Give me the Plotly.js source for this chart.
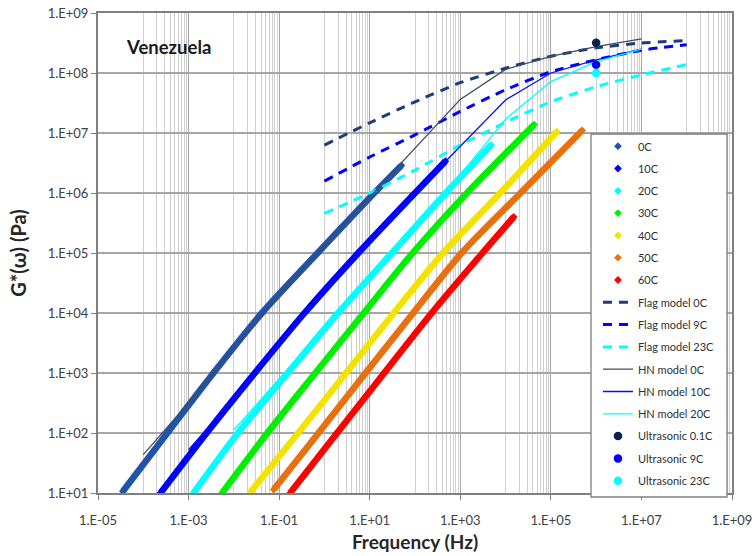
<!DOCTYPE html>
<html>
<head>
<meta charset="utf-8">
<script src="https://cdn.plot.ly/plotly-3.0.1.min.js"></script>
<style>
  html, body { margin: 0; padding: 0; background: #ffffff; }
  #chart { width: 754px; height: 556px; }
</style>
</head>
<body>
<div id="chart"></div>
<script>
// Measured complex modulus G*(ω) versus frequency, per test temperature
const f0C  = [3.55e-5, 3.4e-4, 3.55e-3, 4.17e-2, 0.708, 12.6, 50.1];
const g0C  = [1.07e1, 1e2, 1e3, 1e4, 1e5, 1e6, 2.88e6];
const f10C = [2.4e-4, 2.5e-3, 2.9e-2, 0.363, 5.6, 100, 468];
const g10C = [1e1, 1e2, 1e3, 1e4, 1e5, 1e6, 3.39e6];
const f20C = [1.29e-3, 1.23e-2, 0.155, 2.0, 30.9, 479, 4790];
const g20C = [1e1, 1e2, 1e3, 1e4, 1e5, 1e6, 6.3e6];
const f30C = [5.5e-3, 5.5e-2, 0.63, 7.4, 89, 1410, 2.8e4, 4.27e4];
const g30C = [1e1, 1e2, 1e3, 1e4, 1e5, 1e6, 1e7, 1.38e7];
const f40C = [2.4e-2, 0.263, 3.0, 33.9, 417, 7590, 1.35e5];
const g40C = [1.07e1, 1e2, 1e3, 1e4, 1e5, 1e6, 1.05e7];
const f50C = [7.6e-2, 0.74, 8.1, 91, 1070, 2.14e4, 4.9e5];
const g50C = [1.14e1, 1e2, 1e3, 1e4, 1e5, 1e6, 1.1e7];
const f60C = [0.178, 1.9, 20.9, 234, 3090, 1.51e4];
const g60C = [1.02e1, 1e2, 1e3, 1e4, 1e5, 3.98e5];

// Flag model curves
const fFlag     = [1, 1e1, 1e2, 1e3, 1e4, 1e5, 1e6, 1e7, 1e8];
const gFlag0C   = [6.3e6, 1.48e7, 3.3e7, 6.9e7, 1.2e8, 1.9e8, 2.63e8, 3.16e8, 3.47e8];
const gFlag9C   = [1.58e6, 3.98e6, 9.3e6, 2.29e7, 5.25e7, 1.05e8, 1.66e8, 2.4e8, 2.95e8];
const gFlag23C  = [4.57e5, 1.0e6, 2.4e6, 6.3e6, 1.51e7, 3.3e7, 5.9e7, 9.3e7, 1.38e8];

// Havriliak-Negami model curves
const fHN0C  = [1e-4, 1e-3, 1e-2, 1e-1, 1, 1e1, 1e2, 1e3, 1e4, 1e5, 1e6, 1e7];
const gHN0C  = [43.6, 316, 2630, 2.0e4, 1.32e5, 8.5e5, 5.5e6, 3.63e7, 1.15e8, 1.9e8, 2.75e8, 3.7e8];
const fHN10C = [1e-3, 1e-2, 1e-1, 1, 1e1, 1e2, 1e3, 1e4, 1e5, 1e6, 1e7];
const gHN10C = [52.5, 372, 3090, 2.34e4, 1.58e5, 1.0e6, 6.0e6, 3.55e7, 1.0e8, 1.66e8, 2.5e8];
const fHN20C = [1e-2, 1e-1, 1, 1e1, 1e2, 1e3, 1e4, 1e5, 1e6, 1e7];
const gHN20C = [112, 794, 5890, 4.17e4, 2.82e5, 2.0e6, 1.7e7, 7.2e7, 1.55e8, 2.5e8];

// Ultrasonic measurements
const fUltra    = [1e6];
const gUltra01C = [3.2e8];
const gUltra9C  = [1.37e8];
const gUltra23C = [1.0e8];

const FONT = 'Lato, "Open Sans", Arial, sans-serif';
const traces = [];

function dataSeries(name, xs, ys, color) {
  // thick band along the measured points plus the diamond markers
  traces.push({x: xs, y: ys, mode: 'lines', type: 'scatter', legendgroup: name,
    showlegend: false, hoverinfo: 'skip',
    line: {color: color, width: 6.5, shape: 'spline', smoothing: 0.8}});
  traces.push({x: xs, y: ys, mode: 'markers', type: 'scatter', name: name, legendgroup: name,
    marker: {symbol: 'diamond', size: 6, color: color}});
}
function dashSeries(name, xs, ys, color) {
  traces.push({x: xs, y: ys, mode: 'lines', type: 'scatter', name: name, legendgroup: name,
    line: {color: color, width: 3, dash: '9px,7px', shape: 'spline', smoothing: 0.6}});
}
function solidSeries(name, xs, ys, color) {
  traces.push({x: xs, y: ys, mode: 'lines', type: 'scatter', name: name, legendgroup: name,
    line: {color: color, width: 1.3}});
}
function pointSeries(name, xs, ys, color) {
  traces.push({x: xs, y: ys, mode: 'markers', type: 'scatter', name: name, legendgroup: name,
    marker: {symbol: 'circle', size: 8.5, color: color}});
}

dataSeries('0C',  f0C,  g0C,  '#2053ab');
dataSeries('10C', f10C, g10C, '#0000ff');
dataSeries('20C', f20C, g20C, '#00ffff');
dataSeries('30C', f30C, g30C, '#00f000');
dataSeries('40C', f40C, g40C, '#f2e400');
dataSeries('50C', f50C, g50C, '#e8700f');
dataSeries('60C', f60C, g60C, '#ff0000');
dashSeries('Flag model 0C',  fFlag, gFlag0C,  '#1c3c7c');
dashSeries('Flag model 9C',  fFlag, gFlag9C,  '#0000ff');
dashSeries('Flag model 23C', fFlag, gFlag23C, '#00ffff');
solidSeries('HN model 0C',  fHN0C,  gHN0C,  '#3e4c68');
solidSeries('HN model 10C', fHN10C, gHN10C, '#0a0aff');
solidSeries('HN model 20C', fHN20C, gHN20C, '#00ffff');
pointSeries('Ultrasonic 0.1C', fUltra, gUltra01C, '#0d214d');
pointSeries('Ultrasonic 9C',   fUltra, gUltra9C,  '#0000ff');
pointSeries('Ultrasonic 23C',  fUltra, gUltra23C, '#00ffff');

const xTickVals = [1e-5, 1e-3, 1e-1, 1e1, 1e3, 1e5, 1e7, 1e9];
const xTickText = ['1.E-05', '1.E-03', '1.E-01', '1.E+01', '1.E+03', '1.E+05', '1.E+07', '1.E+09'];
const yTickVals = [1e1, 1e2, 1e3, 1e4, 1e5, 1e6, 1e7, 1e8, 1e9];
const yTickText = ['1.E+01', '1.E+02', '1.E+03', '1.E+04', '1.E+05', '1.E+06', '1.E+07', '1.E+08', '1.E+09'];

// Minor vertical gridlines: linear steps of the decade above each labelled major
const xMinorVals = [];
for (let e = -4; e <= 8; e += 2) {
  for (let m = 1; m <= 9; m++) xMinorVals.push(m * Math.pow(10, e));
}

const layout = {
  width: 754, height: 556,
  margin: {l: 98, r: 22, t: 13, b: 63},
  paper_bgcolor: '#ffffff', plot_bgcolor: '#ffffff',
  font: {family: FONT, color: '#404040', size: 13},
  showlegend: true,
  legend: {
    x: 0.7886, xanchor: 'left', y: 0.7527, yanchor: 'top',
    bgcolor: 'rgba(0,0,0,0)', borderwidth: 0,
    font: {family: FONT, size: 11, color: '#303030'},
    traceorder: 'grouped', tracegroupgap: 3.3
  },
  xaxis: {
    type: 'log', range: [-5, 9],
    tickvals: xTickVals, ticktext: xTickText,
    ticks: 'outside', ticklen: 5, tickcolor: '#808080', tickwidth: 1,
    ticklabelstandoff: 9,
    showgrid: true, gridcolor: '#a6a6a6', gridwidth: 1,
    minor: {tickmode: 'array', tickvals: xMinorVals, showgrid: true,
            gridcolor: '#cfcfcf', gridwidth: 1, ticks: ''},
    showline: true, mirror: true, linecolor: '#808080', linewidth: 2,
    zeroline: false,
    tickfont: {family: FONT, size: 13, color: '#404040'},
    title: {text: '<b>Frequency (Hz)</b>', font: {family: FONT, size: 19, color: '#262626'}, standoff: 9}
  },
  yaxis: {
    type: 'log', range: [1, 9],
    tickvals: yTickVals, ticktext: yTickText,
    ticks: 'outside', ticklen: 5, tickcolor: '#808080', tickwidth: 1,
    showgrid: true, gridcolor: '#a6a6a6', gridwidth: 1.2,
    showline: true, mirror: true, linecolor: '#808080', linewidth: 2,
    zeroline: false,
    tickfont: {family: FONT, size: 13, color: '#404040'},
    title: {text: '<b>G*(ω) (Pa)</b>', font: {family: FONT, size: 20, color: '#262626'}, standoff: 16}
  },
  shapes: [{
    // legend frame
    type: 'rect', xref: 'paper', yref: 'paper', layer: 'above',
    x0: 0.7776, x1: 0.9921, y0: -0.0083, y1: 0.7479,
    fillcolor: '#ffffff', line: {color: '#808080', width: 1.3}
  }],
  annotations: [{
    text: '<b>Venezuela</b>', xref: 'paper', yref: 'paper',
    x: 0.041, y: 0.93, xanchor: 'left', yanchor: 'middle', showarrow: false,
    font: {family: FONT, size: 18.5, color: '#1a1a1a'}
  }]
};

Plotly.newPlot('chart', traces, layout, {displayModeBar: false, staticPlot: true});
</script>
</body>
</html>
